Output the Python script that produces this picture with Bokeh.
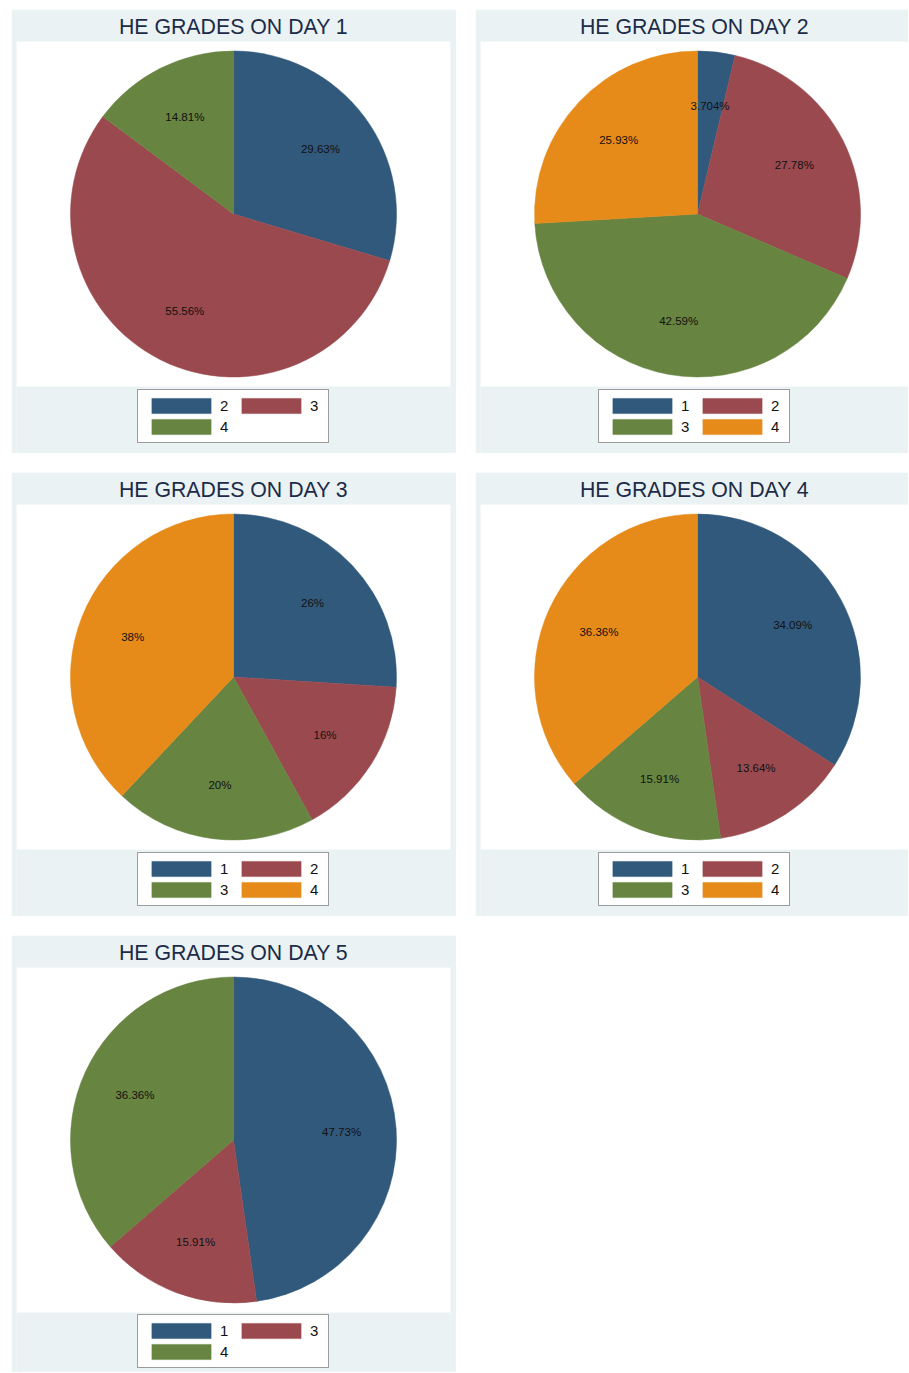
import math
from bokeh.plotting import figure
from bokeh.models import ColumnDataSource, Legend, LegendItem, Spacer, BoxAnnotation
from bokeh.layouts import column, row
from bokeh.embed import file_html
from bokeh.resources import INLINE
from bokeh.core.properties import value

# ---- data ----
day1_cats = ["2", "3", "4"]
day1_vals = [29.63, 55.56, 14.81]
day1_labels = ["29.63%", "55.56%", "14.81%"]
day2_cats = ["1", "2", "3", "4"]
day2_vals = [3.704, 27.78, 42.59, 25.93]
day2_labels = ["3.704%", "27.78%", "42.59%", "25.93%"]
day3_cats = ["1", "2", "3", "4"]
day3_vals = [26, 16, 20, 38]
day3_labels = ["26%", "16%", "20%", "38%"]
day4_cats = ["1", "2", "3", "4"]
day4_vals = [34.09, 13.64, 15.91, 36.36]
day4_labels = ["34.09%", "13.64%", "15.91%", "36.36%"]
day5_cats = ["1", "3", "4"]
day5_vals = [47.73, 15.91, 36.36]
day5_labels = ["47.73%", "15.91%", "36.36%"]
titles = ["HE GRADES ON DAY 1", "HE GRADES ON DAY 2", "HE GRADES ON DAY 3",
          "HE GRADES ON DAY 4", "HE GRADES ON DAY 5"]

PALETTE = ["#31597C", "#9A4A4F", "#678440", "#E68A19"]
PANEL_BG = "#EAF2F3"
TITLE_COLOR = "#1C2B48"
FONT = "Liberation Sans"

R_PX = 163.0      # pie radius in pixels
PLOT_H = 345      # height of the white plot region
TOP = 32          # title band


def make_pie(title, cats, vals, labels, right_col=False, height=444, leg_margin=10):
    if right_col:
        width, mbl, mbr = 433, 5, 0
        frame_w = width - mbl - mbr
        left_px = 217
    else:
        width, mbl, mbr = 445, 5, 6
        frame_w = width - mbl - mbr
        left_px = frame_w / 2
    right_px = frame_w - left_px
    frame_h = height - TOP
    top_px = PLOT_H / 2
    bottom_px = frame_h - top_px
    p = figure(width=width, height=height, output_backend="svg", toolbar_location=None,
               x_range=(-left_px / R_PX, right_px / R_PX),
               y_range=(-bottom_px / R_PX, top_px / R_PX),
               x_axis_location=None, y_axis_location=None,
               min_border_left=mbl, min_border_right=mbr,
               min_border_top=TOP, min_border_bottom=0,
               background_fill_color=PANEL_BG, border_fill_color=PANEL_BG)
    p.outline_line_color = None
    p.grid.visible = False

    # white plot region behind the pie
    p.add_layout(BoxAnnotation(bottom=-top_px / R_PX, fill_color="white", fill_alpha=1.0,
                               line_color=None, level="underlay"))

    total = sum(vals)
    starts, ends, lx, ly, colors = [], [], [], [], []
    cum = 0.0
    for i, v in enumerate(vals):
        a0 = math.pi / 2 - 2 * math.pi * cum / total
        cum += v
        a1 = math.pi / 2 - 2 * math.pi * cum / total
        starts.append(a0)
        ends.append(a1)
        mid = (a0 + a1) / 2
        lx.append(0.665 * math.cos(mid))
        ly.append(0.665 * math.sin(mid))
        colors.append(PALETTE[i])
    src = ColumnDataSource(dict(start=starts, end=ends, color=colors, cat=cats,
                                lx=lx, ly=ly, lab=labels))
    r = p.wedge(x=0, y=0, radius=1, start_angle="start", end_angle="end",
                direction="clock", fill_color="color", line_color="color",
                line_width=0.5, source=src)
    p.text(x="lx", y="ly", text="lab", source=src, text_align="center",
           text_baseline="middle", text_font=value(FONT), text_font_size="11.5px",
           text_color="#111111")

    p.title.text = title
    p.title.align = "center"
    p.title.vertical_align = "middle"
    p.title.text_font = FONT
    p.title.text_font_size = "21.3px"
    p.title.text_font_style = "normal"
    p.title.text_color = TITLE_COLOR
    p.title.standoff = 4
    if right_col:
        p.title.offset = 6

    items = [LegendItem(label=c, renderers=[r], index=i) for i, c in enumerate(cats)]
    leg = Legend(items=items, orientation="horizontal", ncols=2,
                 glyph_width=74, glyph_height=19, label_standoff=2,
                 label_width=12, label_height=17, spacing=2, padding=6,
                 margin=leg_margin, location="bottom_center",
                 label_text_font=FONT, label_text_font_size="15px",
                 label_text_color="#111111",
                 border_line_color="#3A3A3A", border_line_width=1,
                 background_fill_color="white", background_fill_alpha=1.0)
    p.add_layout(leg)
    return p


f1 = make_pie(titles[0], day1_cats, day1_vals, day1_labels)
f2 = make_pie(titles[1], day2_cats, day2_vals, day2_labels, right_col=True)
f3 = make_pie(titles[2], day3_cats, day3_vals, day3_labels)
f4 = make_pie(titles[3], day4_cats, day4_vals, day4_labels, right_col=True)
f5 = make_pie(titles[4], day5_cats, day5_vals, day5_labels, height=437, leg_margin=4)

layout = column(
    Spacer(height=9),
    row(Spacer(width=11), f1, Spacer(width=19), f2),
    Spacer(height=19),
    row(Spacer(width=11), f3, Spacer(width=19), f4),
    Spacer(height=19),
    row(Spacer(width=11), f5),
)

open("out.html", "w").write(file_html(layout, INLINE))
